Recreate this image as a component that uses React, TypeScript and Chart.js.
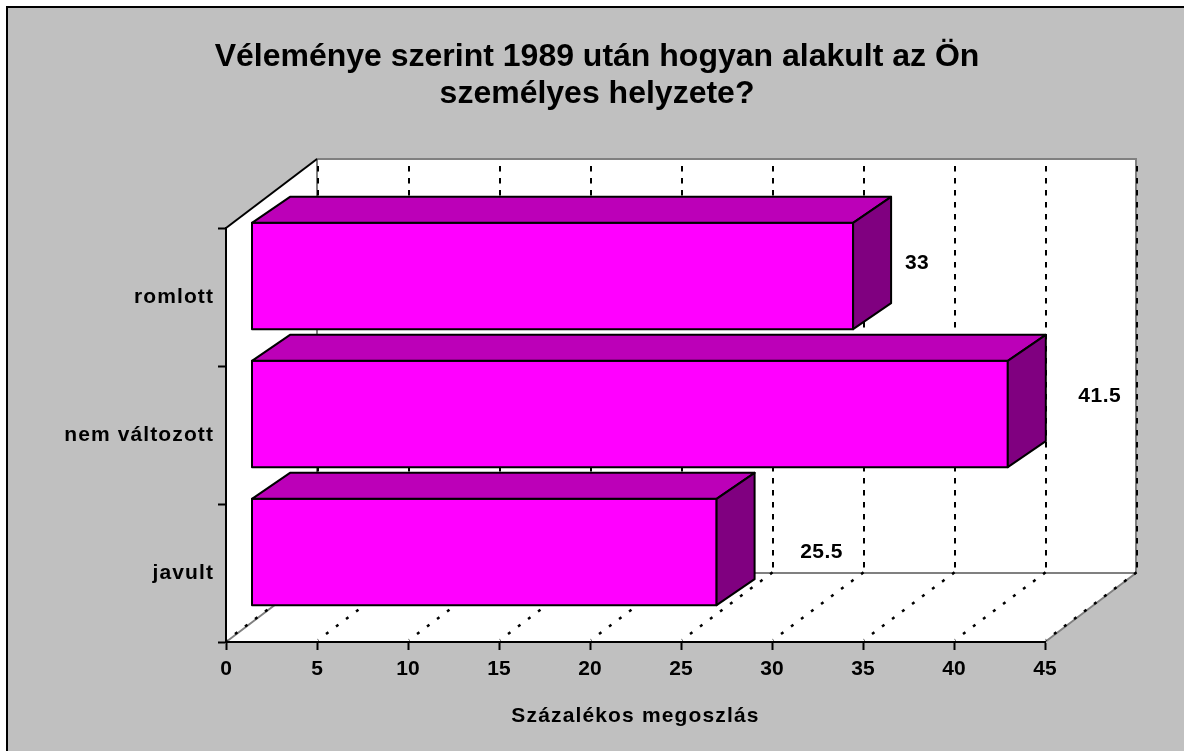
import React, { useEffect, useRef } from "react";
import { Chart, registerables } from "chart.js";

Chart.register(...registerables);

const categories = ["romlott", "nem változott", "javult"];
const values = [33, 41.5, 25.5];
const titleLines = ["Véleménye szerint 1989 után hogyan alakult az Ön", "személyes helyzete?"];
const xAxisTitle = "Százalékos megoszlás";
const labelOffsets = [[65, -12.5], [93, -17.5], [106, 0.5]];

const FONT = "'Liberation Sans', Arial, sans-serif";
const BACK = { dx: 91, dy: -69 };
const BAR_SHIFT = { dx: 25.5, dy: -21 };
const BAR_DEPTH = { dx: 38, dy: -26 };
const FRONT = "#FF00FF";
const TOP = "#BC00B8";
const SIDE = "#800080";

const spaced = (labelSpacing: string, titleSpacing: string) => (scale: any) => {
  const wrap = (name: string, spacing: string) => {
    const orig = scale[name];
    if (orig.__wrapped) return;
    const wrapped = function (...args: any[]) {
      const c = scale.ctx;
      c.save();
      c.letterSpacing = spacing;
      orig.apply(scale, args);
      c.restore();
    };
    (wrapped as any).__wrapped = true;
    scale[name] = wrapped;
  };
  wrap("drawLabels", labelSpacing);
  wrap("drawTitle", titleSpacing);
};

const scenePlugin = {
  id: "scene",
  beforeDraw(chart: any) {
    const { ctx, scales, chartArea: a, width, height } = chart;
    const x = scales.x;
    ctx.save();
    ctx.fillStyle = "#FFFFFF";
    ctx.fillRect(0, 0, width, height);
    ctx.fillStyle = "#C0C0C0";
    ctx.fillRect(7, 7, width, height);
    ctx.strokeStyle = "#000000";
    ctx.lineWidth = 2;
    ctx.strokeRect(7, 7, width + 10, height + 10);

    const bl = a.left + BACK.dx, br = a.right + BACK.dx;
    const bt = a.top + BACK.dy, bb = a.bottom + BACK.dy;
    ctx.fillStyle = "#FFFFFF";
    ctx.beginPath();
    ctx.moveTo(a.left, a.top);
    ctx.lineTo(bl, bt);
    ctx.lineTo(br, bt);
    ctx.lineTo(br, bb);
    ctx.lineTo(a.right, a.bottom);
    ctx.lineTo(a.left, a.bottom);
    ctx.closePath();
    ctx.fill();
    ctx.strokeStyle = "#808080";
    ctx.lineWidth = 2;
    ctx.beginPath();
    ctx.moveTo(bl, bb);
    ctx.lineTo(bl, bt);
    ctx.lineTo(br, bt);
    ctx.lineTo(br, bb);
    ctx.lineTo(bl, bb);
    ctx.moveTo(a.left, a.bottom);
    ctx.lineTo(bl, bb);
    ctx.moveTo(a.right, a.bottom);
    ctx.lineTo(br, bb);
    ctx.stroke();
    ctx.strokeStyle = "#000000";
    ctx.beginPath();
    ctx.moveTo(a.left, a.top);
    ctx.lineTo(bl, bt);
    ctx.stroke();
    ctx.strokeStyle = "#000000";
    for (const t of x.ticks) {
      const px = x.getPixelForValue(t.value);
      ctx.lineWidth = 2;
      ctx.setLineDash([5.5, 6.5]);
      ctx.beginPath();
      ctx.moveTo(px + BACK.dx + 1, bt + 7);
      ctx.lineTo(px + BACK.dx + 1, bb);
      ctx.stroke();
      ctx.lineWidth = 2.5;
      ctx.setLineDash([3, 9.5]);
      ctx.lineDashOffset = -10;
      ctx.beginPath();
      ctx.moveTo(px + 1, a.bottom - 2);
      ctx.lineTo(px + BACK.dx + 1, bb - 1);
      ctx.stroke();
      ctx.lineDashOffset = 0;
    }
    ctx.setLineDash([]);
    ctx.fillStyle = "#000000";
    ctx.textAlign = "center";
    ctx.textBaseline = "alphabetic";
    ctx.font = `bold 32px ${FONT}`;
    ctx.fillText(titleLines[0], 597, 66);
    ctx.fillText(titleLines[1], 597, 103);
    ctx.restore();
  },
  beforeDatasetsDraw(chart: any) {
    chart.ctx.save();
    chart.ctx.translate(BAR_SHIFT.dx, BAR_SHIFT.dy);
  },
  afterDatasetsDraw(chart: any) {
    const ctx = chart.ctx;
    const meta = chart.getDatasetMeta(0);
    ctx.lineWidth = 2;
    ctx.strokeStyle = "#000000";
    ctx.lineJoin = "round";
    meta.data.forEach((el: any) => {
      const { x, y, base, height } = el;
      const t = y - height / 2, b = y + height / 2;
      const { dx, dy } = BAR_DEPTH;
      const right = x + 1;
      ctx.fillStyle = FRONT;
      ctx.beginPath();
      ctx.rect(base, t, right - base, b - t);
      ctx.fill();
      ctx.stroke();
      ctx.fillStyle = TOP;
      ctx.beginPath();
      ctx.moveTo(base, t);
      ctx.lineTo(base + dx, t + dy);
      ctx.lineTo(right + dx, t + dy);
      ctx.lineTo(right, t);
      ctx.closePath();
      ctx.fill();
      ctx.stroke();
      ctx.fillStyle = SIDE;
      ctx.beginPath();
      ctx.moveTo(right, t);
      ctx.lineTo(right + dx, t + dy);
      ctx.lineTo(right + dx, b + dy);
      ctx.lineTo(right, b);
      ctx.closePath();
      ctx.fill();
      ctx.stroke();
    });
    ctx.restore();
    ctx.save();
    ctx.fillStyle = "#000000";
    ctx.font = `bold 21px ${FONT}`;
    ctx.letterSpacing = "0.5px";
    ctx.textAlign = "center";
    ctx.textBaseline = "middle";
    meta.data.forEach((el: any, i: number) => {
      const [ox, oy] = labelOffsets[i];
      ctx.fillText(String(values[i]), el.x + BAR_SHIFT.dx + ox, el.y + BAR_SHIFT.dy + oy);
    });
    ctx.restore();
  },
};

export default function App() {
  const ref = useRef<HTMLCanvasElement>(null);
  useEffect(() => {
    document.body.style.overflow = "hidden";
    const chart = new Chart(ref.current as HTMLCanvasElement, {
      type: "bar",
      data: {
        labels: categories,
        datasets: [
          {
            label: xAxisTitle,
            data: values,
            backgroundColor: FRONT,
            borderColor: "#000000",
            borderWidth: 2,
            barPercentage: 0.77,
            categoryPercentage: 1,
            clip: false,
          } as any,
        ],
      },
      options: {
        indexAxis: "y",
        animation: false,
        responsive: false,
        events: [],
        layout: { padding: { left: 0, right: 139, top: 228, bottom: 0 } },
        plugins: { legend: { display: false }, tooltip: { enabled: false }, title: { display: false } },
        scales: {
          x: {
            min: 0,
            max: 45,
            afterFit: (s: any) => {
              s.height = 109;
              spaced("0px", "1.15px")(s);
            },
            ticks: { stepSize: 5, color: "#000000", padding: 7, font: { family: FONT, size: 21, weight: "bold" }, maxRotation: 0 },
            grid: { drawOnChartArea: false, drawTicks: true, tickLength: 8, tickColor: "#000000", tickWidth: 2 },
            border: { display: true, color: "#000000", width: 2 },
            title: {
              display: true,
              text: xAxisTitle,
              color: "#000000",
              padding: { top: 0, bottom: 22 },
              font: { family: FONT, size: 21, weight: "bold" },
            },
          },
          y: {
            afterFit: (s: any) => {
              s.width = 226;
              spaced("1.1px", "0px")(s);
            },
            ticks: { color: "#000000", padding: 4, font: { family: FONT, size: 21, weight: "bold" } },
            grid: { offset: true, drawOnChartArea: false, drawTicks: true, tickLength: 8, tickColor: "#000000", tickWidth: 2 },
            border: { display: true, color: "#000000", width: 2 },
          },
        },
      } as any,
      plugins: [scenePlugin],
    });
    return () => chart.destroy();
  }, []);
  return (
    <canvas
      ref={ref}
      width={1184}
      height={751}
      style={{ position: "fixed", left: 0, top: 0, width: 1184, height: 751, display: "block" }}
    />
  );
}
